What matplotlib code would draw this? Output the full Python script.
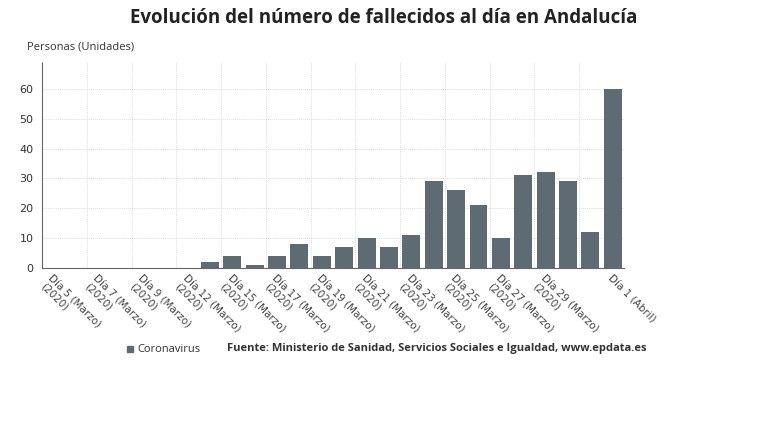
import matplotlib.pyplot as plt
from matplotlib.patches import Rectangle

labels = ["Día 5 (Marzo)\n(2020)", "Día 7 (Marzo)\n(2020)", "Día 9 (Marzo)\n(2020)",
          "Día 12 (Marzo)\n(2020)", "Día 15 (Marzo)\n(2020)", "Día 17 (Marzo)\n(2020)",
          "Día 19 (Marzo)\n(2020)", "Día 21 (Marzo)\n(2020)", "Día 23 (Marzo)\n(2020)",
          "Día 25 (Marzo)\n(2020)", "Día 27 (Marzo)\n(2020)", "Día 29 (Marzo)\n(2020)",
          "Día 1 (Abril)"]
label_pos = [0, 2, 4, 6, 8, 10, 12, 14, 16, 18, 20, 22, 25]
values = [0, 0, 0, 0, 0, 0, 0, 2, 4, 1, 4, 8, 4, 7, 10, 7, 11, 29, 26, 21, 10, 31, 32, 29, 12, 60]

bar_color = "#5f6b73"
txt = "#333333"

fig = plt.figure(figsize=(7.68, 4.32), dpi=100)
ax = fig.add_axes([42/768, 1 - 268/432, 582/768, 206/432])

x = list(range(len(values)))
ax.bar(x, values, width=0.8, color=bar_color, zorder=3)
ax.set_xlim(-0.5, len(values) - 0.5)
ax.set_ylim(0, 69)
ax.set_yticks(range(0, 70, 10))
ax.set_xticks(label_pos)
ax.set_xticklabels(labels, rotation=-45, ha="left", va="top", rotation_mode="anchor",
                   fontsize=7.5, color="#444444", linespacing=1.1)
ax.tick_params(axis="y", labelsize=8, colors="#333333", length=0, pad=6)
ax.tick_params(axis="x", length=0, pad=4)

for g in [i + 1.5 for i in range(0, 25, 2)]:
    ax.axvline(g, color="#dddddd", lw=0.7, ls=(0, (1, 1)), zorder=1)
ax.yaxis.grid(True, color="#dddddd", lw=0.7, ls=(0, (1, 1)), zorder=1)

for s in ["top", "right"]:
    ax.spines[s].set_visible(False)
ax.spines["left"].set_color("#666666")
ax.spines["left"].set_linestyle((0, (1, 1)))
ax.spines["bottom"].set_color("#666666")

fig.text(0.5, 1 - 18/432, "Evolución del número de fallecidos al día en Andalucía",
         ha="center", va="center", fontsize=13.5, fontweight="bold", color="#222222",
         family="Open Sans")
fig.text(27/768, 1 - 47/432, "Personas (Unidades)", ha="left", va="center",
         fontsize=8, color=txt, family="Open Sans")

fig.patches.append(Rectangle((127/768, 1 - 352/432), 6/768, 6/432,
                             transform=fig.transFigure, color=bar_color))
fig.text(137/768, 1 - 349/432, "Coronavirus", ha="left", va="center",
         fontsize=8, color=txt, family="Open Sans")
fig.text(227/768, 1 - 349/432,
         "Fuente: Ministerio de Sanidad, Servicios Sociales e Igualdad, www.epdata.es",
         ha="left", va="center", fontsize=8, fontweight="bold", color=txt, family="Open Sans")

fig.savefig("out.png", dpi=100)
